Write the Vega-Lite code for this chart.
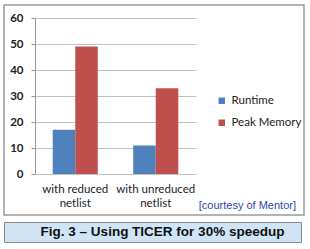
{
  "$schema": "https://vega.github.io/schema/vega-lite/v6.json",
  "padding": {"left": 3, "top": 4, "right": 5, "bottom": 6},
  "background": "white",
  "spacing": 5,
  "config": {"view": {"stroke": null}},
  "vconcat": [
    {
      "width": 300,
      "height": 210,
      "view": {"stroke": "#9a9a9a", "strokeWidth": 1.5, "fill": "white"},
      "title": {"text": "[courtesy of Mentor]", "orient": "bottom", "anchor": "end", "offset": -15, "dx": -8, "color": "#2b48a8", "fontSize": 11, "fontWeight": "normal", "font": "Liberation Sans"},
      "data": {"values": [
        {"group": "with reduced netlist", "series": "Runtime", "value": 17},
        {"group": "with reduced netlist", "series": "Peak Memory", "value": 49},
        {"group": "with unreduced netlist", "series": "Runtime", "value": 11},
        {"group": "with unreduced netlist", "series": "Peak Memory", "value": 33}
      ]},
      "resolve": {"scale": {"x": "independent"}, "axis": {"x": "independent"}},
      "layer": [
        {
          "mark": {"type": "bar"},
          "encoding": {
            "x": {"field": "group", "type": "nominal", "sort": null,
              "scale": {"range": [31, 192], "paddingInner": 0.44, "paddingOuter": 0.22},
              "axis": {"title": null, "offset": -41, "labelAngle": 0, "ticks": false, "domain": false, "labelAlign": "center", "labelFlush": false, "labelBound": false, "labelOverlap": false,
                "labelExpr": "slice(datum.label, 0, lastindexof(datum.label, ' '))",
                "labelFont": "Lato", "labelFontSize": 11.5, "labelColor": "#222", "labelPadding": 9}},
            "xOffset": {"field": "series", "type": "nominal", "sort": ["Runtime", "Peak Memory"]},
            "y": {"field": "value", "type": "quantitative",
              "scale": {"domain": [0, 60], "range": [169, 13], "nice": false},
              "axis": {"title": null, "offset": -31, "values": [0, 10, 20, 30, 40, 50, 60], "tickSize": 4, "tickColor": "#999", "domainColor": "#999", "gridColor": "#c2c2c2",
                "labelFont": "Lato", "labelFontWeight": "bold", "labelFontSize": 11.5, "labelColor": "#222", "labelPadding": 8}},
            "color": {"field": "series", "type": "nominal", "sort": ["Runtime", "Peak Memory"],
              "scale": {"domain": ["Runtime", "Peak Memory"], "range": ["#4f81bd", "#c0504d"]},
              "legend": {"title": null, "orient": "none", "legendX": 212, "legendY": 90, "symbolType": "square", "symbolSize": 42, "symbolStrokeWidth": 0, "labelFont": "Lato", "labelFontSize": 11.5, "labelColor": "#222", "rowPadding": 9, "labelOffset": 4}}
          }
        },
        {
          "mark": {"type": "bar", "opacity": 0},
          "encoding": {
            "x": {"field": "group", "type": "nominal", "sort": null,
              "scale": {"range": [31, 192], "paddingInner": 0.44, "paddingOuter": 0.22},
              "axis": {"title": null, "orient": "bottom", "offset": -41, "labelAngle": 0, "ticks": false, "domain": false, "grid": false, "labelAlign": "center", "labelFlush": false, "labelBound": false, "labelOverlap": false,
                "labelExpr": "slice(datum.label, lastindexof(datum.label, ' ') + 1)",
                "labelFont": "Lato", "labelFontSize": 11.5, "labelColor": "#222", "labelPadding": 23}}
          }
        }
      ]
    },
    {
      "width": 297,
      "height": 20,
      "view": {"stroke": "#8a8a8a", "fill": "#cfe4f5", "strokeWidth": 1},
      "data": {"values": [{"caption": "Fig. 3 – Using TICER for 30% speedup"}]},
      "mark": {"type": "text", "font": "Liberation Sans", "fontWeight": "bold", "fontSize": 13.5, "color": "#111", "dx": 10},
      "encoding": {"text": {"field": "caption"}}
    }
  ]
}
